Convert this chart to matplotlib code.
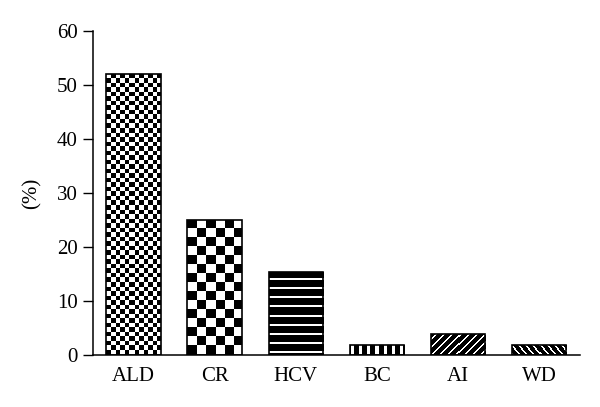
import numpy as np
import matplotlib
matplotlib.use("Agg")
import matplotlib.pyplot as plt

categories = ["ALD", "CR", "HCV", "BC", "AI", "WD"]
values = [52.0, 25.0, 15.4, 1.9, 3.8, 1.9]
# texture per bar: (kind, period in px)
textures = [("checker", 4.53), ("checker", 9.07), ("hlines", 9),
            ("vlines", 8), ("diag_up", 8), ("diag_down", 7)]
yticks = [0, 10, 20, 30, 40, 50, 60]

plt.rcParams["font.family"] = ["Liberation Serif", "DejaVu Serif"]
plt.rcParams["font.size"] = 15


def texture(kind, period, nrows, ncols):
    r, c = np.indices((nrows, ncols))
    if kind == "checker":
        return ((np.floor(r / period) + np.floor(c / period)) % 2).astype(float)
    if kind == "hlines":
        return ((r % period) >= period - 2).astype(float)
    if kind == "vlines":
        return (((c + 4) % period) >= period - 3).astype(float)
    if kind == "diag_up":
        return (((c - r) % period) < 2).astype(float)
    return (((c + r) % period) < 2).astype(float)


def fill_bar(ax, bar, kind, period):
    (x0, y0), (x1, y1) = ax.transData.transform(
        [(bar.get_x(), bar.get_y()),
         (bar.get_x() + bar.get_width(), bar.get_y() + bar.get_height())])
    ncols = int(round(x1 - x0))
    nrows = int(round(y1 - y0))
    img = texture(kind, period, nrows, ncols)
    if kind == "hlines":
        img = img[::-1]  # lines counted from the top of the bar
    im = ax.imshow(img, cmap="gray", vmin=0, vmax=1, origin="lower",
                   extent=(bar.get_x(), bar.get_x() + bar.get_width(),
                           bar.get_y(), bar.get_y() + bar.get_height()),
                   aspect="auto", interpolation="nearest", zorder=2.5)
    im.set_clip_path(bar)


fig = plt.figure(figsize=(6, 4.07), dpi=100)
ax = fig.add_axes([0.155, 0.128, 0.811, 0.796])
x = np.arange(len(categories))
ax.set_xlim(-0.5, len(categories) - 0.5)
ax.set_ylim(0, 60)

fills = ax.bar(x, values, width=0.67, color="white", linewidth=0, zorder=2)
for bar, (kind, period) in zip(fills, textures):
    fill_bar(ax, bar, kind, period)

ax.bar(x, values, width=0.67, fill=False, edgecolor="black", linewidth=1.2,
       zorder=3)

ax.set_xlim(-0.5, len(categories) - 0.5)
ax.set_ylim(0, 60)
ax.set_yticks(yticks)
ax.set_xticks(x)
ax.set_xticklabels(categories)
ax.tick_params(axis="x", length=0, pad=9)
ax.tick_params(axis="y", length=7, width=1.0, direction="out", pad=4)
ax.set_ylabel("(%)")
ax.yaxis.set_label_coords(-0.105, 0.5)

for side in ["top", "right"]:
    ax.spines[side].set_visible(False)
for side in ["left", "bottom"]:
    ax.spines[side].set_linewidth(1.1)

fig.savefig("out.png", dpi=100)
